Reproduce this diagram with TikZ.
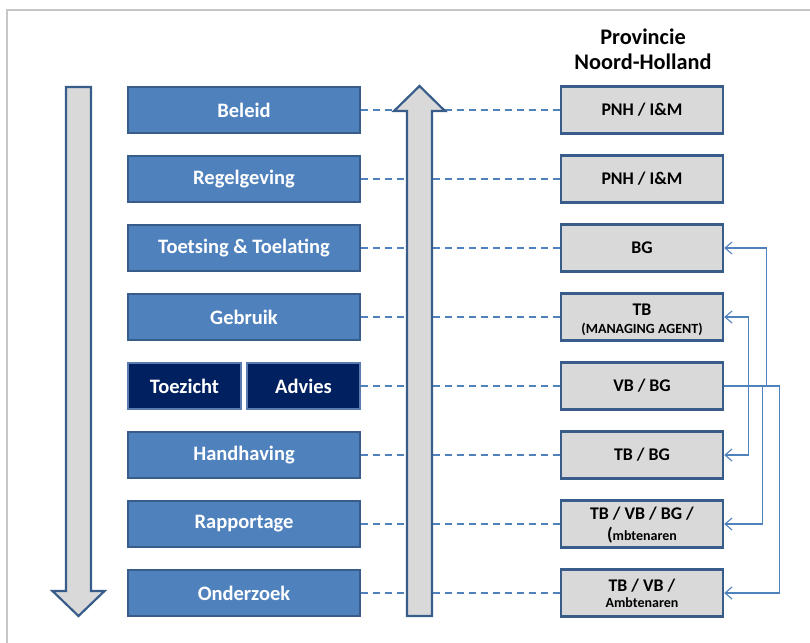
\documentclass[tikz,border=0pt]{standalone}
\usepackage{fontspec}
\setmainfont{Carlito}
\usetikzlibrary{arrows.meta}
\definecolor{boxblue}{HTML}{4F81BD}
\definecolor{boxedge}{HTML}{385D8A}
\definecolor{navyfill}{HTML}{002060}
\definecolor{navyedge}{HTML}{5A7BB0}
\definecolor{lgray}{HTML}{D9D9D9}
\definecolor{framegray}{HTML}{C6C6C6}
\definecolor{linkblue}{HTML}{4F81BD}
\begin{document}
\begin{tikzpicture}[x=1pt,y=-1pt,
  lbox/.style={draw=boxedge, line width=2pt, fill=boxblue, minimum width=232pt, minimum height=46pt, inner sep=0pt, text=white, font=\fontsize{20.5}{23}\selectfont\bfseries},
  nbox/.style={draw=navyedge, line width=1.6pt, fill=navyfill, minimum width=113pt, minimum height=46pt, inner sep=0pt, text=white, font=\fontsize{20.5}{23}\selectfont\bfseries},
  rbox/.style={draw=boxedge, line width=2.4pt, fill=lgray, minimum width=162pt, minimum height=47pt, inner sep=0pt, text=black, font=\fontsize{17.8}{20}\selectfont\bfseries},
  bigtxt/.style={anchor=base, inner sep=0pt, font=\fontsize{17.8}{20}\selectfont\bfseries},
  smalltxt/.style={anchor=base, inner sep=0pt, font=\fontsize{14}{16}\selectfont\bfseries},
  headtxt/.style={anchor=base, inner sep=0pt, font=\fontsize{22.3}{26}\selectfont\bfseries},
  dashline/.style={draw=linkblue, line width=2pt, dash pattern=on 7pt off 5pt},
  conn/.style={draw=linkblue, line width=1.1pt, -{Straight Barb[length=7pt,width=12pt,line width=1.1pt]}},
  bigarrow/.style={draw=boxedge, line width=2.2pt, fill=lgray, line join=miter}
]
\useasboundingbox (0,0) rectangle (810,642);
\clip (0,0) rectangle (810,642);
% frame
\draw[framegray, line width=2pt] (7,660) -- (7,10) -- (830,10);

% header
\node[headtxt] (prov) at (643,45) {Provincie};
\node[headtxt] (nh) at (643,70) {Noord-Holland};

% left boxes
\node[lbox] (beleid) at (244,110) {Beleid};
\node[lbox] (regel) at (244,179) {Regelgeving};
\node[lbox] (toets) at (244,248) {Toetsing \& Toelating};
\node[lbox] (gebruik) at (244,317) {Gebruik};
\node[nbox] (toezicht) at (184.5,386) {Toezicht};
\node[nbox] (advies) at (303.5,386) {Advies};
\node[lbox] (handh) at (244,455) {Handhaving};
\node[lbox] (rapp) at (244,524) {Rapportage};
\node[lbox] (onderz) at (244,593) {Onderzoek};

% right boxes
\node[rbox] (pnhA) at (642,110) {PNH / I\&M};
\node[rbox] (pnhB) at (642,179) {PNH / I\&M};
\node[rbox] (bg) at (642,248) {BG};
\node[rbox] (tb) at (642,317) {};
\node[bigtxt] (tbA) at (642,315) {TB};
\node[smalltxt] (tbB) at (642,333) {(MANAGING AGENT)};
\node[rbox] (vbbg) at (642,386) {VB / BG};
\node[rbox] (tbbg) at (642,455) {TB / BG};
\node[rbox] (rappR) at (642,524) {};
\node[bigtxt] (rappA) at (642,519) {TB / VB / BG /};
\node[smalltxt] (rappB) at (642,540) {{\fontsize{18}{20}\selectfont(}mbtenaren};
\node[rbox] (ondR) at (642,593) {};
\node[bigtxt] (ondA) at (642,591.5) {TB / VB /};
\node[smalltxt] (ondB) at (642,607.5) {Ambtenaren};

% dashed links
\draw[dashline] (beleid.east) -- (pnhA.west);
\draw[dashline] (regel.east) -- (pnhB.west);
\draw[dashline] (toets.east) -- (bg.west);
\draw[dashline] (gebruik.east) -- (tb.west);
\draw[dashline] (advies.east) -- (vbbg.west);
\draw[dashline] (handh.east) -- (tbbg.west);
\draw[dashline] (rapp.east) -- (rappR.west);
\draw[dashline] (onderz.east) -- (ondR.west);

% big arrows
\draw[bigarrow] (66,87) -- (91,87) -- (91,591) -- (104.5,591) -- (78.5,616) -- (52.5,591) -- (66,591) -- cycle;
\draw[bigarrow] (407,616) -- (432,616) -- (432,111) -- (445,111) -- (419.5,86) -- (394,111) -- (407,111) -- cycle;

% connectors from VB / BG
\draw[conn] (vbbg.east) -- ++(42,0) |- (bg.east);
\draw[conn] (vbbg.east) -- ++(24,0) |- (tb.east);
\draw[conn] (vbbg.east) -- ++(24,0) |- (tbbg.east);
\draw[conn] (vbbg.east) -- ++(38,0) |- (rappR.east);
\draw[conn] (vbbg.east) -- ++(55,0) |- (ondR.east);
\end{tikzpicture}
\end{document}
